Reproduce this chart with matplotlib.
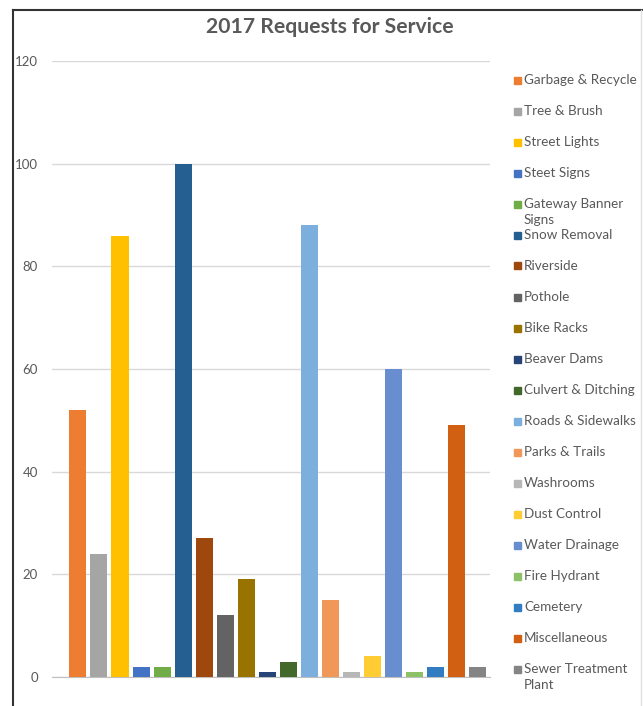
import numpy as np
import matplotlib.pyplot as plt
from matplotlib.patches import Rectangle
from matplotlib.lines import Line2D

# service request counts for 2017
categories = ['Garbage & Recycle', 'Tree & Brush', 'Street Lights', 'Steet Signs',
              'Gateway Banner\nSigns', 'Snow Removal', 'Riverside', 'Pothole',
              'Bike Racks', 'Beaver Dams', 'Culvert & Ditching', 'Roads & Sidewalks',
              'Parks & Trails', 'Washrooms', 'Dust Control', 'Water Drainage',
              'Fire Hydrant', 'Cemetery', 'Miscellaneous', 'Sewer Treatment\nPlant']
requests = [52, 24, 86, 2, 2, 100, 27, 12, 19, 1, 3, 88, 15, 1, 4, 60, 1, 2, 49, 2]
colors = ['#ED7D31', '#A5A5A5', '#FFC000', '#4472C4', '#70AD47', '#255E91',
          '#9E480E', '#636363', '#997300', '#264478', '#43682B', '#7CAFDD',
          '#F1975A', '#B7B7B7', '#FFCD33', '#698ED0', '#8CC168', '#327DC2',
          '#D26012', '#848484']
yticks = [0, 20, 40, 60, 80, 100, 120]

plt.rcParams['font.family'] = ['Lato', 'DejaVu Sans']
W, H = 643, 706
fig = plt.figure(figsize=(W / 100, H / 100), dpi=100)

# outer chart border
fig.add_artist(Line2D([13 / W, 1], [1 - 10 / H, 1 - 10 / H], color='#333333', lw=1.5))
fig.add_artist(Line2D([13 / W, 13 / W], [0, 1 - 10 / H], color='#333333', lw=1.5))
fig.add_artist(Line2D([641 / W, 641 / W], [0, 1 - 10 / H], color='#E0E0E0', lw=1))

ax = fig.add_axes([52 / W, (H - 677) / H, (490 - 52) / W, (677 - 61) / H])
x = np.arange(len(requests))
ax.bar(x, requests, width=0.81, color=colors, zorder=3)
ax.set_xlim(-1.23, 19.58)
ax.set_ylim(0, 120)
ax.set_yticks(yticks)
ax.set_xticks([])
ax.tick_params(axis='y', length=0, labelsize=9.5, labelcolor='#595959', pad=10)
ax.grid(axis='y', color='#D9D9D9', lw=1, zorder=0)
for s in ['top', 'right', 'left']:
    ax.spines[s].set_visible(False)
ax.spines['bottom'].set_color('#BFBFBF')

fig.text(330 / W, 1 - 27 / H, '2017 Requests for Service', ha='center', va='center',
         fontsize=15.2, fontweight='bold', color='#595959')

# legend drawn as a column on the right
for i, (name, c) in enumerate(zip(categories, colors)):
    yc = 80 + 31 * i
    fig.add_artist(Rectangle((514 / W, 1 - (yc + 3.5) / H), 7 / W, 7 / H,
                             color=c, transform=fig.transFigure))
    fig.text(524 / W, 1 - (yc - 6) / H, name, ha='left', va='top', fontsize=9.7,
             color='#595959', linespacing=1.4)

fig.savefig('out.png', dpi=100)
